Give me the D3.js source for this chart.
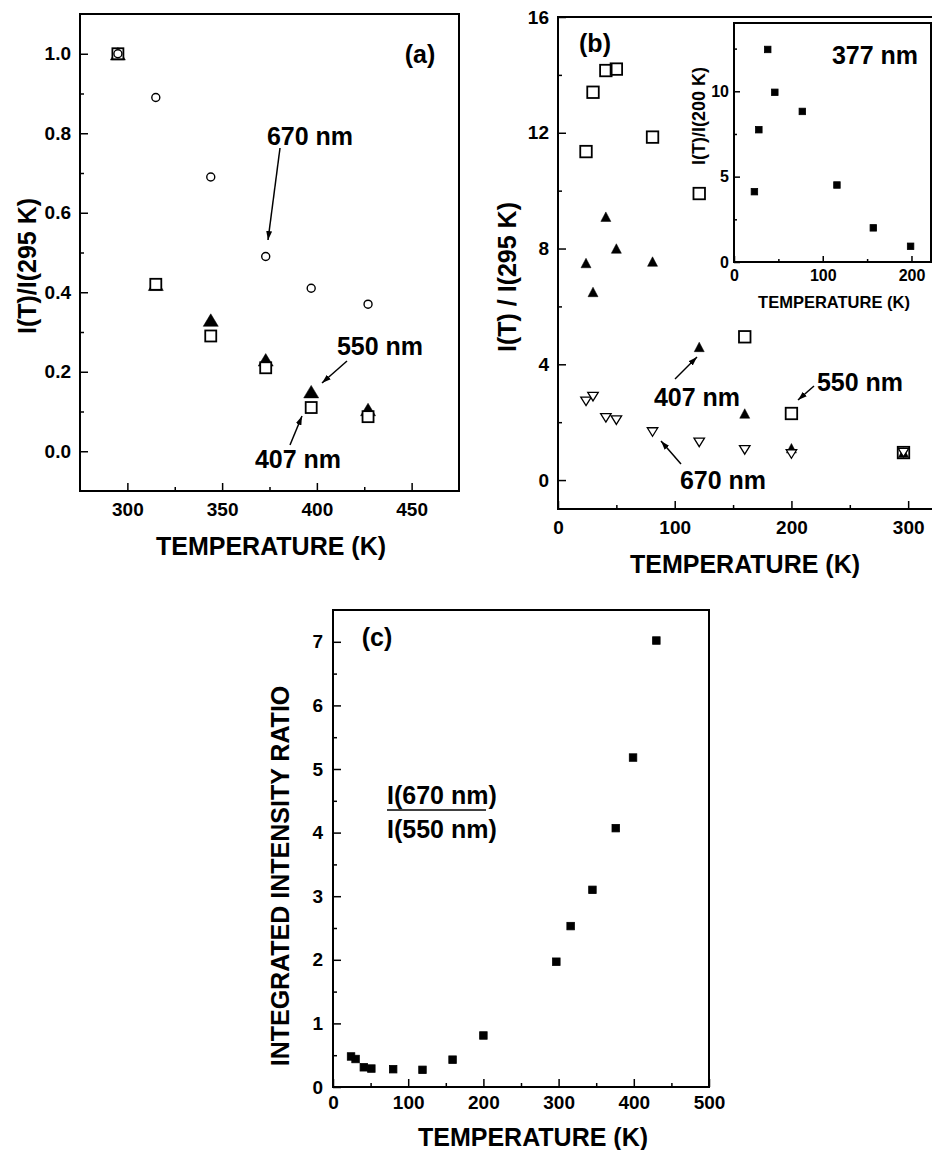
<!DOCTYPE html>
<html>
<head>
<meta charset="utf-8">
<script src="https://cdn.jsdelivr.net/npm/d3@7"></script>
<style>
  body { margin: 0; background: #fff; }
  svg text { font-family: "Liberation Sans", Arial, sans-serif; font-weight: bold; }
</style>
</head>
<body>
<script>
// ---- data ----
// panel (a): 295 K and above
var tempA = [295, 315, 344, 373, 397, 427];
var a670 = [1.0, 0.89, 0.69, 0.49, 0.41, 0.37];
var a550 = [1.0, 0.42, 0.33, 0.23, 0.15, 0.105];
var a407 = [1.0, 0.42, 0.29, 0.21, 0.11, 0.087];

// panel (b): below 295 K
var tempB = [24, 30, 41, 50, 81, 121, 160, 200, 296];
var b550 = [11.35, 13.4, 14.15, 14.2, 11.85, 9.9, 4.95, 2.3, 0.95];
var b407 = [7.5, 6.5, 9.1, 8.0, 7.55, 4.6, 2.3, 1.1, 0.95];
var b670 = [2.72, 2.88, 2.15, 2.07, 1.66, 1.3, 1.04, 0.9, 0.95];

// inset of (b): 377 nm
var tempInset = [23, 28, 38, 46, 77, 116, 157, 199];
var inset377 = [4.12, 7.75, 12.45, 9.94, 8.82, 4.51, 2.0, 0.92];

// panel (c): I(670)/I(550)
var tempC = [24, 30, 41, 51, 80, 119, 159, 200, 297, 316, 345, 376, 399, 430];
var ratioC = [0.48, 0.44, 0.31, 0.29, 0.28, 0.27, 0.43, 0.81, 1.97, 2.53, 3.1, 4.07, 5.18, 7.02];

// tick values
var ticksAx = [300, 350, 400, 450], minorAx = [325, 375, 425];
var ticksAy = [0, 0.2, 0.4, 0.6, 0.8, 1.0], minorAy = [0.1, 0.3, 0.5, 0.7, 0.9];
var ticksBx = [0, 100, 200, 300], minorBx = [50, 150, 250];
var ticksBy = [0, 4, 8, 12, 16], minorBy = [2, 6, 10, 14];
var ticksIx = [0, 100, 200], minorIx = [50, 150];
var ticksIy = [0, 5, 10], minorIy = [2.5, 7.5, 12.5];
var ticksCx = [0, 100, 200, 300, 400, 500], minorCx = [50, 150, 250, 350, 450];
var ticksCy = [0, 1, 2, 3, 4, 5, 6, 7], minorCy = [0.5, 1.5, 2.5, 3.5, 4.5, 5.5, 6.5];

var FONT = "'Liberation Sans', Arial, sans-serif";

var svg = d3.select("body").append("svg")
    .attr("width", 932)
    .attr("height", 1150);

svg.append("defs").append("marker")
    .attr("id", "arr")
    .attr("markerUnits", "userSpaceOnUse")
    .attr("markerWidth", 9).attr("markerHeight", 6)
    .attr("refX", 9).attr("refY", 3)
    .attr("orient", "auto")
  .append("path")
    .attr("d", "M0,0 L9,3 L0,6 Z")
    .attr("fill", "#000");

// builds one framed panel with inward ticks
function panel(o) {
  var x = d3.scaleLinear().domain(o.xd).range(o.xr);
  var y = d3.scaleLinear().domain(o.yd).range(o.yr);
  var g = svg.append("g");

  function axis(a, vals, size, pad, fmt, tr) {
    var ax = g.append("g")
      .attr("transform", tr)
      .call(a.tickValues(vals).tickSize(-size).tickPadding(pad).tickFormat(fmt))
      .attr("font-family", FONT)
      .attr("font-size", o.fs)
      .attr("font-weight", "bold");
    ax.select(".domain").remove();
    ax.selectAll("line").attr("stroke-width", 1.5);
  }
  axis(d3.axisBottom(x), o.xMinor, o.minor, 0, "", "translate(0," + o.yr[0] + ")");
  axis(d3.axisBottom(x), o.xTicks, o.major, o.xPad, o.xFmt, "translate(0," + o.yr[0] + ")");
  axis(d3.axisLeft(y), o.yMinor, o.minor, 0, "", "translate(" + o.xr[0] + ",0)");
  axis(d3.axisLeft(y), o.yTicks, o.major, o.yPad, o.yFmt, "translate(" + o.xr[0] + ",0)");

  g.append("rect")
    .attr("x", o.xr[0]).attr("y", o.yr[1])
    .attr("width", o.xr[1] - o.xr[0])
    .attr("height", o.yr[0] - o.yr[1])
    .attr("fill", "none")
    .attr("stroke", "#000")
    .attr("stroke-width", 2);
  return {g: g, x: x, y: y};
}

function squares(p, xs, ys, side, fill, sw) {
  p.g.append("g").selectAll("rect")
    .data(d3.zip(xs, ys))
    .join("rect")
      .attr("x", function(d) { return p.x(d[0]) - side / 2; })
      .attr("y", function(d) { return p.y(d[1]) - side / 2; })
      .attr("width", side).attr("height", side)
      .attr("fill", fill)
      .attr("stroke", "#000")
      .attr("stroke-width", sw);
}

function triangles(p, xs, ys, w, h, up, fill, sw) {
  p.g.append("g").selectAll("path")
    .data(d3.zip(xs, ys))
    .join("path")
      .attr("d", function(d) {
        var cx = p.x(d[0]), cy = p.y(d[1]), s = up ? 1 : -1;
        return "M" + cx + "," + (cy - s * h / 2) +
               "L" + (cx + w / 2) + "," + (cy + s * h / 2) +
               "L" + (cx - w / 2) + "," + (cy + s * h / 2) + "Z";
      })
      .attr("fill", fill)
      .attr("stroke", "#000")
      .attr("stroke-width", sw)
      .attr("stroke-linejoin", "miter");
}

function circles(p, xs, ys, r) {
  p.g.append("g").selectAll("circle")
    .data(d3.zip(xs, ys))
    .join("circle")
      .attr("cx", function(d) { return p.x(d[0]); })
      .attr("cy", function(d) { return p.y(d[1]); })
      .attr("r", r)
      .attr("fill", "#fff")
      .attr("stroke", "#000")
      .attr("stroke-width", 1.4);
}

function label(txt, x, y, size, rot, anchor) {
  var t = svg.append("text")
    .attr("x", x).attr("y", y)
    .attr("dy", "0.35em")
    .attr("text-anchor", anchor || "middle")
    .attr("font-size", size)
    .text(txt);
  if (rot) t.attr("transform", "rotate(-90," + x + "," + y + ")");
  return t;
}

function arrow(x1, y1, x2, y2) {
  svg.append("line")
    .attr("x1", x1).attr("y1", y1)
    .attr("x2", x2).attr("y2", y2)
    .attr("stroke", "#000")
    .attr("stroke-width", 1.5)
    .attr("marker-end", "url(#arr)");
}

// ---- panel (a) ----
var pa = panel({
  xd: [275, 475], xr: [80, 459], yd: [-0.1, 1.1], yr: [491, 14],
  xTicks: ticksAx, xMinor: minorAx, yTicks: ticksAy, yMinor: minorAy,
  xFmt: d3.format("d"), yFmt: d3.format(".1f"),
  major: 8, minor: 4, xPad: 12, yPad: 9, fs: 19
});
triangles(pa, tempA, a550, 15, 12.5, true, "#000", 0.5);
squares(pa, tempA, a407, 11, "#fff", 1.8);
circles(pa, tempA, a670, 4);

label("(a)", 420, 54, 25);
label("670 nm", 310, 136, 25);
arrow(280, 148, 268, 240);
label("550 nm", 380, 346, 25);
arrow(347, 361, 322, 383);
label("407 nm", 298, 459, 25);
arrow(290, 445, 302, 416);
label("I(T)/I(295 K)", 27, 266, 25, true);
label("TEMPERATURE (K)", 271, 546, 25);

// ---- panel (b) ----
var pb = panel({
  xd: [0, 323], xr: [558, 935], yd: [-1, 16], yr: [509, 17],
  xTicks: ticksBx, xMinor: minorBx, yTicks: ticksBy, yMinor: minorBy,
  xFmt: d3.format("d"), yFmt: d3.format("d"),
  major: 8, minor: 4, xPad: 12, yPad: 9, fs: 19
});
squares(pb, tempB, b550, 11.5, "none", 1.8);
triangles(pb, tempB, b407, 10, 9.5, true, "#000", 0.5);
triangles(pb, tempB, b670, 10.5, 8.5, false, "#fff", 1.3);

label("(b)", 595, 43, 25);
label("407 nm", 697, 397, 25);
arrow(675, 379, 697, 357);
label("550 nm", 860, 382, 25);
arrow(814, 386, 798, 400);
label("670 nm", 723, 480, 25);
arrow(681, 464, 661, 441);
label("I(T) / I(295 K)", 507, 277, 25, true);
label("TEMPERATURE (K)", 745, 564, 25);

// ---- inset of (b) ----
var pi = panel({
  xd: [0, 222], xr: [734, 931], yd: [0, 14], yr: [262, 23],
  xTicks: ticksIx, xMinor: minorIx, yTicks: ticksIy, yMinor: minorIy,
  xFmt: d3.format("d"), yFmt: d3.format("d"),
  major: 6, minor: 3, xPad: 8, yPad: 5, fs: 16
});
squares(pi, tempInset, inset377, 6.5, "#000", 0.8);
label("377 nm", 875, 55, 25);
label("I(T)/I(200 K)", 699, 116, 18, true);
label("TEMPERATURE (K)", 834, 302, 16.5);

// ---- panel (c) ----
var pc = panel({
  xd: [0, 500], xr: [333, 709], yd: [0, 7.5], yr: [1087, 610],
  xTicks: ticksCx, xMinor: minorCx, yTicks: ticksCy, yMinor: minorCy,
  xFmt: d3.format("d"), yFmt: d3.format("d"),
  major: 8, minor: 4, xPad: 9, yPad: 10, fs: 19
});
squares(pc, tempC, ratioC, 7.5, "#000", 0.8);

label("(c)", 377, 637, 25);
label("I(670 nm)", 387, 795, 25, false, "start");
svg.append("line")
  .attr("x1", 387).attr("x2", 486)
  .attr("y1", 810).attr("y2", 810)
  .attr("stroke", "#000").attr("stroke-width", 1.5);
label("I(550 nm)", 387, 829, 25, false, "start");
label("INTEGRATED INTENSITY RATIO", 280, 876, 25, true);
label("TEMPERATURE (K)", 533, 1137, 25);
</script>
</body>
</html>
